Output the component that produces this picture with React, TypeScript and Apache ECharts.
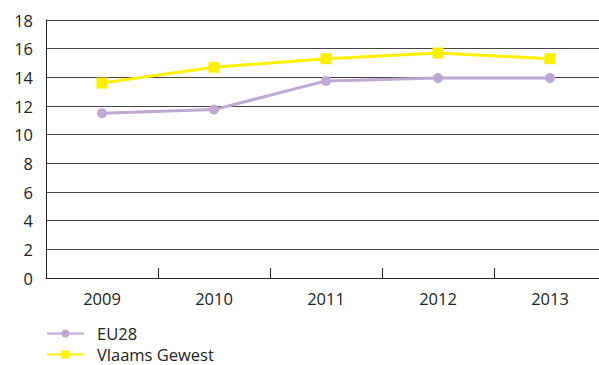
import React, { useEffect, useRef } from "react";
import * as echarts from "echarts";

const years = ["2009", "2010", "2011", "2012", "2013"];
const eu28 = [11.5, 11.75, 13.75, 13.95, 13.95];
const vlaams = [13.6, 14.7, 15.3, 15.7, 15.3];

const FONT = "Open Sans";

export default function App() {
  const ref = useRef<HTMLDivElement>(null);
  useEffect(() => {
    const chart = echarts.init(ref.current!, null, { renderer: "svg" });
    const legendCommon = {
      orient: "vertical",
      left: 46,
      itemWidth: 37,
      itemHeight: 10,
      textStyle: { fontFamily: FONT, fontSize: 16.5, lineHeight: 16, color: "#222", padding: [0, 0, 0, 8] },
      padding: 0,
    };
    chart.setOption({
      animation: false,
      grid: { left: 46, top: 20, height: 258, width: 560, outerBoundsMode: "none", containLabel: false },
      legend: [
        { ...legendCommon, top: 325, data: ["EU28"] },
        { ...legendCommon, top: 346, data: ["Vlaams Gewest"] },
      ],
      xAxis: {
        type: "category",
        data: years,
        boundaryGap: true,
        axisLine: { lineStyle: { color: "#222", width: 1 } },
        axisTick: { show: true, inside: true, length: 10, lineStyle: { color: "#222" } },
        axisLabel: { fontFamily: FONT, fontSize: 16.5, color: "#222", margin: 12 },
      },
      yAxis: {
        type: "value",
        min: 0,
        max: 18,
        interval: 2,
        axisLine: { show: true, lineStyle: { color: "#222", width: 1 } },
        axisTick: { show: false },
        axisLabel: { fontFamily: FONT, fontSize: 16.5, color: "#222", margin: 13 },
        splitLine: { lineStyle: { color: "#444", width: 1 } },
      },
      series: [
        {
          name: "EU28",
          type: "line",
          data: eu28,
          symbol: "circle",
          symbolSize: 10,
          lineStyle: { color: "#c1a7d3", width: 3 },
          itemStyle: { color: "#c1a7d3" },
        },
        {
          name: "Vlaams Gewest",
          type: "line",
          data: vlaams,
          symbol: "rect",
          symbolSize: 11,
          lineStyle: { color: "#fff000", width: 3 },
          itemStyle: { color: "#fff000" },
        },
      ],
    });
    return () => chart.dispose();
  }, []);
  return <div ref={ref} style={{ width: 599, height: 365, position: "absolute", left: 0, top: 0 }} />;
}
